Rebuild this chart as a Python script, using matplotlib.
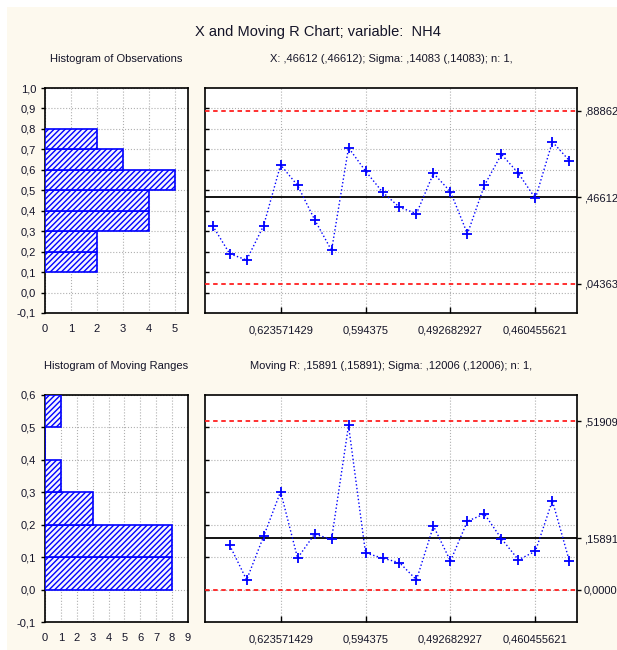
import matplotlib
matplotlib.use("Agg")
import matplotlib.pyplot as plt
import numpy as np
from matplotlib.patches import Rectangle

plt.rcParams['font.family'] = ['Liberation Sans', 'DejaVu Sans']
plt.rcParams['hatch.linewidth'] = 1.0

# ---- data ----
obs = [0.327, 0.190, 0.159, 0.327, 0.624, 0.524, 0.357, 0.206, 0.708, 0.594,
       0.491, 0.417, 0.386, 0.583, 0.493, 0.287, 0.524, 0.676, 0.583, 0.460,
       0.737, 0.645]
mr = [0.137, 0.030, 0.164, 0.302, 0.097, 0.171, 0.155, 0.506, 0.113, 0.097,
      0.083, 0.030, 0.196, 0.088, 0.211, 0.233, 0.157, 0.092, 0.118, 0.274,
      0.088]
obs_bins = [0.1, 0.2, 0.3, 0.4, 0.5, 0.6, 0.7]
obs_counts = [2, 2, 4, 4, 5, 3, 2]
mr_bins = [0.0, 0.1, 0.2, 0.3, 0.4, 0.5]
mr_counts = [8, 8, 3, 1, 0, 1]
x_cl, x_ucl, x_lcl = 0.46612, 0.88862, 0.04363
r_cl, r_ucl, r_lcl = 0.15891, 0.51909, 0.0
x_limit_labels = [',04363', ',46612', ',88862']
r_limit_labels = ['0,0000', ',15891', ',51909']
xtick_pos = [5, 10, 15, 20]
xtick_labels = ['0,623571429', '0,594375', '0,492682927', '0,460455621']

W, H = 617, 650
fig = plt.figure(figsize=(W / 100, H / 100), dpi=100)
fig.patch.set_facecolor('white')
fig.patches.append(Rectangle((7 / W, 0), 1, 1 - 7 / H, transform=fig.transFigure,
                             facecolor='#fdf9ee', edgecolor='none', zorder=-10))

txtc = '#141428'
blue = '#0000ff'
fs_tick = 8


def comma(v, nd=1):
    return f"{v:.{nd}f}".replace('.', ',')


def style_axes(ax):
    for s in ax.spines.values():
        s.set_linewidth(1.2)
        s.set_color('black')
    ax.set_facecolor('white')
    ax.tick_params(labelsize=fs_tick, colors='black', labelcolor=txtc, length=3, width=1)


def hist(ax, bins, counts, xlim, xticks, ylim, yticks):
    ax.barh(bins, counts, height=0.1, align='edge', facecolor='#f4f4ff',
            edgecolor=blue, hatch='//////', linewidth=1.2, zorder=3)
    ax.set_xlim(*xlim)
    ax.set_ylim(*ylim)
    ax.set_xticks(xticks)
    ax.set_xticklabels([str(v) for v in xticks])
    ax.set_yticks(yticks)
    ax.set_yticklabels([comma(v) for v in yticks])
    ax.grid(True, color='#b0b0b0', linestyle=':', linewidth=0.8, zorder=0)
    ax.set_axisbelow(True)
    style_axes(ax)
    ax.tick_params(axis='y', direction='out')
    ax.tick_params(axis='x', direction='out', length=0, pad=8)


def control(ax, vals, cl, ucl, lcl, ylim, ygrid, labels, xstart):
    xs = np.arange(xstart, xstart + len(vals))
    ax.plot(xs, vals, color=blue, linestyle=':', linewidth=1.0, marker='+',
            markersize=7, markeredgewidth=1.3, zorder=4)
    ax.axhline(cl, color='black', linewidth=1.3, zorder=3)
    ax.axhline(ucl, color='#ff2020', linewidth=1.3, linestyle=(0, (2.5, 2)), zorder=3)
    ax.axhline(lcl, color='#ff2020', linewidth=1.3, linestyle=(0, (2.5, 2)), zorder=3)
    ax.set_xlim(0.55, 22.45)
    ax.set_ylim(*ylim)
    ax.set_yticks(ygrid)
    ax.set_yticklabels([])
    ax.set_xticks(xtick_pos)
    ax.set_xticklabels(xtick_labels)
    ax.grid(True, color='#b0b0b0', linestyle=':', linewidth=0.8, zorder=0)
    ax.set_axisbelow(True)
    style_axes(ax)
    ax.tick_params(axis='y', left=True, right=True, direction='in', length=3)
    ax.tick_params(axis='x', direction='in', length=4, pad=9)
    ax2 = ax.twinx()
    ax2.set_ylim(*ylim)
    ax2.set_yticks(sorted([lcl, cl, ucl]))
    ax2.set_yticklabels(labels)
    ax2.tick_params(axis='y', labelsize=fs_tick, labelcolor=txtc, length=3, width=1,
                    direction='out', pad=2)
    for s in ax2.spines.values():
        s.set_visible(False)


ax1 = fig.add_axes([45 / W, 1 - 313 / H, 143 / W, 225 / H])
hist(ax1, obs_bins, obs_counts, (0, 5.5), [0, 1, 2, 3, 4, 5], (-0.1, 1.0),
     np.round(np.arange(-0.1, 1.01, 0.1), 1))

ax2 = fig.add_axes([205 / W, 1 - 313 / H, 372 / W, 225 / H])
control(ax2, obs, x_cl, x_ucl, x_lcl, (-0.1, 1.0),
        np.round(np.arange(0.0, 0.91, 0.1), 1), x_limit_labels, 1)

ax3 = fig.add_axes([45 / W, 1 - 622 / H, 143 / W, 227 / H])
hist(ax3, mr_bins, mr_counts, (0, 9), list(range(10)), (-0.1, 0.6),
     np.round(np.arange(-0.1, 0.61, 0.1), 1))

ax4 = fig.add_axes([205 / W, 1 - 622 / H, 372 / W, 227 / H])
control(ax4, mr, r_cl, r_ucl, r_lcl, (-0.1, 0.6),
        np.round(np.arange(0.0, 0.51, 0.1), 1), r_limit_labels, 2)

fig.text(318 / W, 1 - 32 / H, 'X and Moving R Chart; variable:  NH4', ha='center',
         va='center', fontsize=10.5, color=txtc)
fig.text(116 / W, 1 - 59 / H, 'Histogram of Observations', ha='center', va='center',
         fontsize=8, color=txtc)
fig.text(391 / W, 1 - 59 / H, 'X: ,46612 (,46612); Sigma: ,14083 (,14083); n: 1,',
         ha='center', va='center', fontsize=8, color=txtc)
fig.text(116 / W, 1 - 366 / H, 'Histogram of Moving Ranges', ha='center', va='center',
         fontsize=8, color=txtc)
fig.text(391 / W, 1 - 366 / H, 'Moving R: ,15891 (,15891); Sigma: ,12006 (,12006); n: 1,',
         ha='center', va='center', fontsize=8, color=txtc)

fig.savefig('out.png', dpi=100, facecolor=fig.get_facecolor())
